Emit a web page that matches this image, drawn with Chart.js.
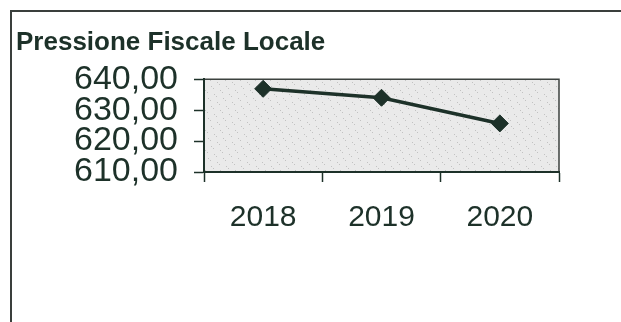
<!DOCTYPE html>
<html>
<head>
<meta charset="utf-8">
<script src="https://cdn.jsdelivr.net/npm/chart.js@4/dist/chart.umd.min.js"></script>
<style>
  html, body { margin: 0; padding: 0; background: #ffffff; }
  #wrap { position: relative; width: 621px; height: 322px; overflow: hidden; }
  #frame {
    position: absolute; left: 10px; top: 10px; width: 640px; height: 340px;
    border-top: 2px solid #3a3f3c; border-left: 2px solid #3a3f3c;
    box-sizing: border-box; pointer-events: none;
  }
  canvas { position: absolute; left: 0; top: 0; }
</style>
</head>
<body>
<div id="wrap">
  <canvas id="chart" width="621" height="322"></canvas>
  <div id="frame"></div>
</div>
<script>
// Pressione fiscale locale per anno
const years = ['2018', '2019', '2020'];
const pressione = [636.9, 634.0, 625.7];
const yTicks = [610, 620, 630, 640];

const INK = '#1d3129';

// grey plot-area fill with a fine stipple and a thin frame
const plotBackground = {
  id: 'plotBackground',
  beforeDraw(chart) {
    const { ctx, chartArea: a } = chart;
    ctx.save();
    ctx.fillStyle = '#eaeaea';
    ctx.fillRect(a.left, a.top, a.width, a.height);
    ctx.fillStyle = 'rgba(120,120,120,0.35)';
    for (let y = Math.ceil(a.top); y < a.bottom; y += 2) {
      for (let x = Math.ceil(a.left) + (y % 4 === 0 ? 0 : 1); x < a.right; x += 3) {
        if (((x * 7 + y * 13) % 5) === 0) ctx.fillRect(x, y, 1, 1);
      }
    }
    ctx.strokeStyle = '#3c423f';
    ctx.lineWidth = 1.5;
    ctx.beginPath();
    ctx.moveTo(a.left, a.top);
    ctx.lineTo(a.right, a.top);
    ctx.lineTo(a.right, a.bottom);
    ctx.stroke();
    ctx.restore();
  }
};

new Chart(document.getElementById('chart'), {
  type: 'line',
  data: {
    labels: years,
    datasets: [{
      data: pressione,
      borderColor: INK,
      borderWidth: 3.5,
      backgroundColor: INK,
      pointStyle: 'rectRot',
      pointRadius: 8.5,
      pointBorderWidth: 1,
      pointBorderColor: INK,
      pointBackgroundColor: INK,
      tension: 0,
      fill: false
    }]
  },
  options: {
    responsive: false,
    animation: false,
    events: [],
    layout: { padding: { top: 27, left: 16, right: 62, bottom: 0 } },
    plugins: {
      legend: { display: false },
      tooltip: { enabled: false },
      title: {
        display: true,
        text: 'Pressione Fiscale Locale',
        align: 'start',
        color: INK,
        font: { family: 'Liberation Sans', size: 26, weight: 'bold' },
        padding: { top: 0, bottom: 21 }
      }
    },
    scales: {
      x: {
        type: 'category',
        offset: true,
        grid: {
          offset: true,
          drawOnChartArea: false,
          drawTicks: true,
          tickLength: 10,
          tickWidth: 1.5,
          color: INK
        },
        border: { display: true, color: INK, width: 2 },
        ticks: {
          color: INK,
          padding: 18,
          maxRotation: 0,
          font: { family: 'Liberation Sans', size: 30 }
        },
        afterFit(scale) { scale.height = 150; }
      },
      y: {
        min: 610,
        max: 640,
        afterBuildTicks(scale) { scale.ticks = yTicks.map(v => ({ value: v })); },
        grid: {
          drawOnChartArea: false,
          drawTicks: true,
          tickLength: 10,
          tickWidth: 1.5,
          color: INK
        },
        border: { display: true, color: INK, width: 2 },
        ticks: {
          autoSkip: false,
          color: INK,
          padding: 16,
          font: { family: 'Liberation Sans', size: 34, lineHeight: 1 },
          callback: v => v.toFixed(2).replace('.', ',')
        },
        afterFit(scale) { scale.width = 188; }
      }
    }
  },
  plugins: [plotBackground]
});
</script>
</body>
</html>
